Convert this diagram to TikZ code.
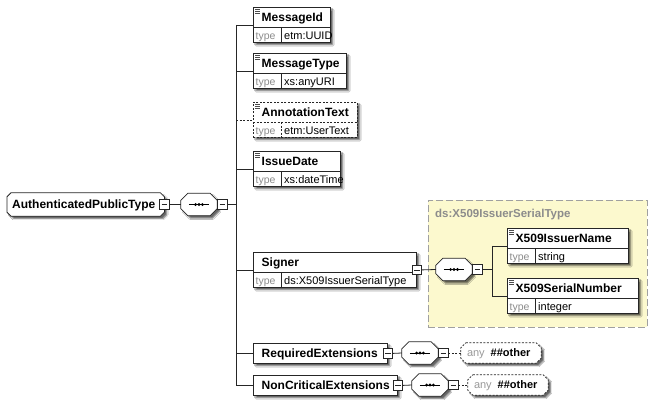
\documentclass[tikz,border=0pt]{standalone}
\usepackage{fontspec}
\setmainfont{Liberation Sans}
\usetikzlibrary{shadows.blur,calc}

\definecolor{yel}{RGB}{252,249,206}
\definecolor{grpborder}{RGB}{160,160,160}
\definecolor{grptitle}{RGB}{140,140,140}

\tikzset{
  base/.style={line width=0.8pt, draw=black!85},
  shad/.style={blur shadow={shadow xshift=2.5pt, shadow yshift=-2.5pt, shadow blur steps=4, shadow opacity=60, shadow blur radius=1.2pt}},
  elbox/.style={base, rectangle, fill=white, inner sep=0pt, shad},
  optline/.style={dash pattern=on 2pt off 1.5pt},
  solidline/.style={solid},
  hid/.style={rectangle, draw=none, fill=none, inner sep=0pt},
  nametext/.style={font=\fontsize{12}{14}\selectfont\bfseries, inner sep=0pt},
  typelbl/.style={font=\fontsize{10.5}{12}\selectfont, text=black!45, inner sep=0pt},
  typeval/.style={font=\fontsize{11}{13}\selectfont, inner sep=0pt},
  anytext/.style={font=\fontsize{11}{13}\selectfont, inner sep=0pt},
  conn/.style={line width=0.8pt, draw=black!85},
  iconl/.style={line width=0.5pt, draw=black!70},
  minusbox/.style={rectangle, draw=black!85, line width=0.7pt, fill=white, minimum size=9.5pt, inner sep=0pt,
    path picture={\draw[line width=0.7pt] ([xshift=2pt]path picture bounding box.west) -- ([xshift=-2pt]path picture bounding box.east);}},
  grpbox/.style={rectangle, draw=grpborder, fill=yel, line width=0.8pt, dash pattern=on 7pt off 3pt, inner sep=0pt},
}

% chamfered outline around a node
\newcommand\octa[3]{%
  \draw[#3] ([xshift=#2]#1.north west) -- ([xshift=-#2]#1.north east) -- ([yshift=-#2]#1.north east)
    -- ([yshift=#2]#1.south east) -- ([xshift=-#2]#1.south east) -- ([xshift=#2]#1.south west)
    -- ([yshift=#2]#1.south west) -- ([yshift=-#2]#1.north west) -- cycle;}

% element with type row: id, x, top, width, name, type, line style
\newcommand\xelem[7]{%
  \node[elbox,#7,minimum width=#4pt,minimum height=35pt,anchor=north west] (#1) at (#2,#3) {};
  \draw[base,#7] ([yshift=-20pt]#1.north west) -- ([yshift=-20pt]#1.north east);
  \draw[base,#7] ([xshift=28pt,yshift=-20pt]#1.north west) -- ([xshift=28pt]#1.south west);
  \node[nametext,anchor=base west] (#1n) at ([xshift=8.5pt,yshift=-14.3pt]#1.north west) {#5};
  \node[typelbl,anchor=base west] (#1t) at ([xshift=2.5pt,yshift=3.8pt]#1.south west) {type};
  \node[typeval,anchor=base west] (#1v) at ([xshift=31pt,yshift=3.8pt]#1.south west) {#6};
}
% element without type row: id, x, top, width, name
\newcommand\celem[5]{%
  \node[elbox,minimum width=#4pt,minimum height=20pt,anchor=north west] (#1) at (#2,#3) {};
  \node[nametext,anchor=base west] (#1n) at ([xshift=8.5pt,yshift=-14.3pt]#1.north west) {#5};
}
\newcommand\elicon[1]{%
  \draw[iconl] ([xshift=2pt,yshift=-2.5pt]#1.north west) -- ++(4.5,0);
  \draw[iconl] ([xshift=2pt,yshift=-4.3pt]#1.north west) -- ++(4.5,0);
  \draw[iconl] ([xshift=2pt,yshift=-6.1pt]#1.north west) -- ++(4.5,0);
}
% sequence compositor: id, x, y (center)
\newcommand\seqsym[3]{%
  \node[hid,minimum width=36pt,minimum height=22pt] (#1) at (#2,#3) {};
  \octa{#1}{7pt}{base,fill=white,shad}
  \draw[line width=0.8pt] ([xshift=8pt]#1.west) -- ([xshift=-8pt]#1.east);
  \foreach \d in {-3.4,0,3.4} \fill ([xshift=\d pt]#1.center) circle (1.6pt);
  \node[minusbox,anchor=west] (#1m) at (#1.east) {};
}
% any wildcard: id, x, y (center)
\newcommand\anysym[3]{%
  \node[hid,minimum width=80pt,minimum height=20pt] (#1) at (#2,#3) {};
  \octa{#1}{5pt}{base,optline,fill=white,shad}
  \node[anytext,anchor=base west] (#1t) at ([xshift=6pt,yshift=-3.9pt]#1.west) {\textcolor{black!40}{any}\hspace{6pt}\textbf{\#\#other}};
}

\begin{document}
\begin{tikzpicture}[x=1pt,y=-1pt]
\fill[white] (0,0) rectangle (654,407);
\useasboundingbox (0,0) rectangle (654,407);

% group background
\node[grpbox,minimum width=219pt,minimum height=127pt,anchor=north west] (grp) at (428,200) {};
\node[nametext,text=grptitle,anchor=base west,font=\fontsize{11.5}{13}\selectfont\bfseries] (grpt) at (435,217) {ds:X509IssuerSerialType};

% root element
\node[hid,minimum width=157pt,minimum height=23pt,anchor=west] (apt) at (7,204.5) {};
\octa{apt}{4pt}{base,fill=white,shad}
\node[nametext,anchor=base west] (aptn) at ([xshift=5pt,yshift=-4.2pt]apt.west) {AuthenticatedPublicType};
\node[minusbox] (aptm) at (apt.east) {};

% main sequence
\seqsym{s0}{199}{204.5}
\draw[conn] (aptm.east) -- (s0.west);

% children
\xelem{e1}{253}{7}{77}{MessageId}{etm:UUID}{solidline}
\elicon{e1}
\xelem{e2}{253}{53}{93}{MessageType}{xs:anyURI}{solidline}
\elicon{e2}
\xelem{e3}{253}{102}{104}{AnnotationText}{etm:UserText}{optline}
\elicon{e3}
\xelem{e4}{253}{151}{87}{IssueDate}{xs:dateTime}{solidline}
\elicon{e4}
\xelem{e5}{253}{252}{163}{Signer}{ds:X509IssuerSerialType}{solidline}
\node[minusbox] (e5m) at (e5.east) {};
\celem{e6}{253}{343}{134}{RequiredExtensions}
\node[minusbox] (e6m) at (e6.east) {};
\celem{e7}{253}{375}{144}{NonCriticalExtensions}
\node[minusbox] (e7m) at (e7.east) {};

% main bar
\coordinate (barx) at (236,0);
\draw[conn] (e1.west -| barx) -- (e7.west -| barx);
\draw[conn] (s0m.east) -- (s0m.east -| barx);
\draw[conn] (e1.west -| barx) -- (e1.west);
\draw[conn] (e2.west -| barx) -- (e2.west);
\draw[conn,optline] (e3.west -| barx) -- (e3.west);
\draw[conn] (e4.west -| barx) -- (e4.west);
\draw[conn] (e5.west -| barx) -- (e5.west);
\draw[conn] (e6.west -| barx) -- (e6.west);
\draw[conn] (e7.west -| barx) -- (e7.west);

% Signer content
\seqsym{s1}{454}{269.5}
\draw[conn] (e5m.east) -- (s1.west);
\xelem{x1}{507}{228}{121}{X509IssuerName}{string}{solidline}
\elicon{x1}
\xelem{x2}{507}{278}{131}{X509SerialNumber}{integer}{solidline}
\elicon{x2}
\coordinate (bar2) at (492,0);
\draw[conn] (x1.west -| bar2) -- (x2.west -| bar2);
\draw[conn] (s1m.east) -- (s1m.east -| bar2);
\draw[conn] (x1.west -| bar2) -- (x1.west);
\draw[conn] (x2.west -| bar2) -- (x2.west);

% RequiredExtensions content
\seqsym{s2}{420}{353}
\draw[conn] (e6m.east) -- (s2.west);
\anysym{a2}{501}{353}
\draw[conn,optline] (s2m.east) -- (a2.west);

% NonCriticalExtensions content
\seqsym{s3}{430}{385}
\draw[conn] (e7m.east) -- (s3.west);
\anysym{a3}{508}{385}
\draw[conn,optline] (s3m.east) -- (a3.west);
\end{tikzpicture}
\end{document}
